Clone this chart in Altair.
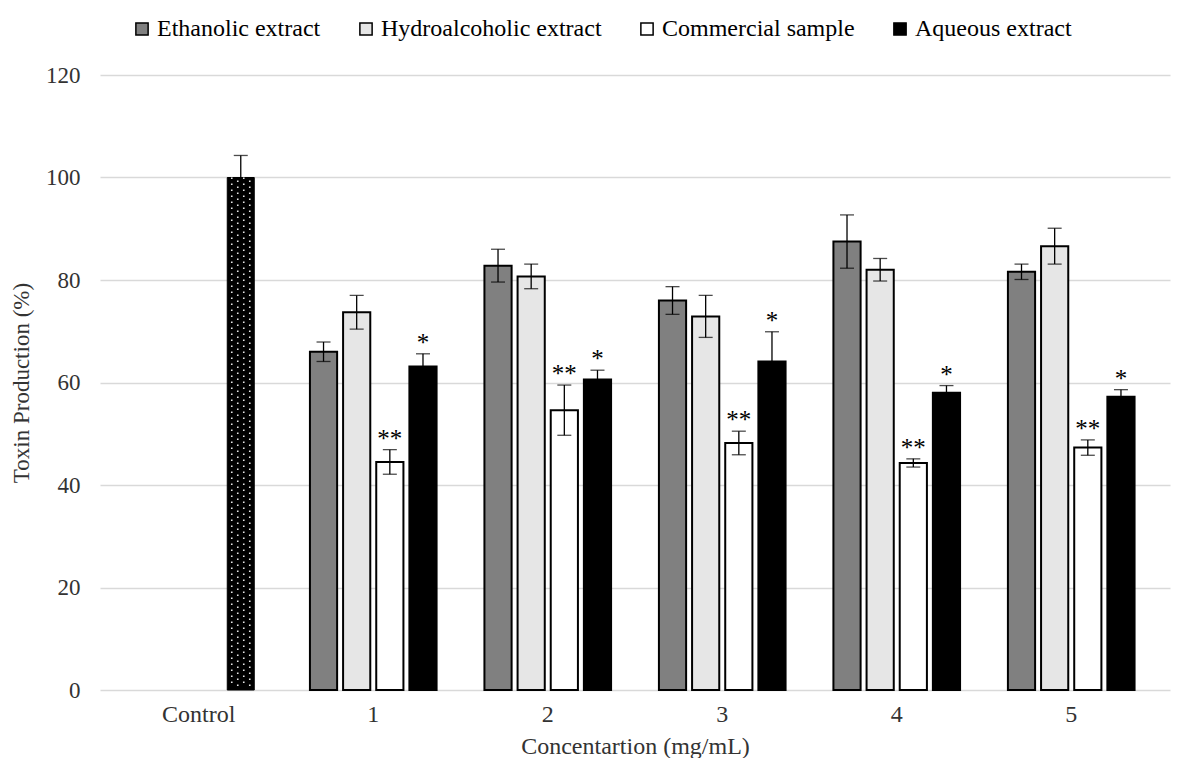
import altair as alt
import pandas as pd

categories = ["Control", "1", "2", "3", "4", "5"]
series = ["Ethanolic extract", "Hydroalcoholic extract", "Commercial sample", "Aqueous extract"]
series_colors = ["#808080", "#e6e6e6", "#ffffff", "#000000"]

concentrations = ["1", "2", "3", "4", "5"]
ethanolic = [66.0, 82.8, 76.0, 87.5, 81.6]
ethanolic_err = [1.9, 3.2, 2.7, 5.2, 1.5]
hydro = [73.7, 80.7, 72.9, 82.0, 86.6]
hydro_err = [3.3, 2.4, 4.1, 2.2, 3.5]
commercial = [44.5, 54.6, 48.2, 44.3, 47.3]
commercial_err = [2.4, 4.9, 2.3, 0.8, 1.5]
aqueous = [63.1, 60.6, 64.1, 58.0, 57.2]
aqueous_err = [2.5, 1.8, 5.8, 1.4, 1.4]
commercial_sig = ["**", "**", "**", "**", "**"]
aqueous_sig = ["*", "*", "*", "*", "*"]

control_value = 100.0
control_err = 4.3

rows = []
for name, vals, errs, sigs in [
    (series[0], ethanolic, ethanolic_err, [""] * 5),
    (series[1], hydro, hydro_err, [""] * 5),
    (series[2], commercial, commercial_err, commercial_sig),
    (series[3], aqueous, aqueous_err, aqueous_sig),
]:
    for c, v, e, s in zip(concentrations, vals, errs, sigs):
        rows.append(dict(conc=c, series=name, value=v, lo=v - e, hi=v + e, sig=s))
df = pd.DataFrame(rows)
ctrl = pd.DataFrame([dict(conc="Control", series="Control", value=control_value,
                          lo=control_value - control_err, hi=control_value + control_err, sig="")])

FONT = "Liberation Serif"

x = alt.X("conc:N", scale=alt.Scale(domain=categories, paddingInner=0.24, paddingOuter=0.186),
          axis=alt.Axis(title="Concentartion (mg/mL)", labelAngle=0, ticks=False, domain=False,
                        labelPadding=12, titlePadding=8, grid=False,
                        labelFontSize=24, titleFontSize=24))
y = alt.Y("value:Q", scale=alt.Scale(domain=[0, 120]),
          axis=alt.Axis(title="Toxin Production (%)", values=[0, 20, 40, 60, 80, 100, 120],
                        ticks=False, domain=False, labelPadding=20, titlePadding=12,
                        gridColor="#d9d9d9", gridWidth=1.5, labelFontSize=23, titleFontSize=23))
xo = alt.XOffset("series:N", scale=alt.Scale(domain=series, paddingInner=0.18, paddingOuter=0.09))

bars = alt.Chart(df).mark_bar(stroke="black", strokeWidth=2).encode(
    x=x, y=y, xOffset=xo,
    color=alt.Color("series:N", scale=alt.Scale(domain=series, range=series_colors),
                    legend=alt.Legend(title=None, orient="none", legendX=30, legendY=-58,
                                      direction="horizontal", symbolType="square",
                                      symbolSize=150, symbolStrokeColor="black",
                                      symbolStrokeWidth=1.5, labelFont=FONT, labelFontSize=24,
                                      labelColor="black", labelOffset=3, columnPadding=33,
                                      labelLimit=0)),
)
err_rule = alt.Chart(df).mark_rule(color="black", strokeWidth=1.3).encode(
    x=x, xOffset=xo, y="lo:Q", y2="hi:Q")
cap_hi = alt.Chart(df).mark_tick(color="black", thickness=1.3, size=14).encode(
    x=x, xOffset=xo, y="hi:Q")
cap_lo = alt.Chart(df).mark_tick(color="black", thickness=1.3, size=14).encode(
    x=x, xOffset=xo, y="lo:Q")
stars = alt.Chart(df).transform_filter("datum.sig != ''").mark_text(
    font=FONT, fontSize=25, baseline="bottom", dy=2, fill="black", color="black").encode(
    x=x, xOffset=xo, y="hi:Q", text="sig:N")

CX = 42
ctrl_bar = alt.Chart(ctrl).mark_bar(color="black", stroke="black", strokeWidth=1, width=27, xOffset=CX).encode(
    x=x, y=y)
dot_layers = []
for off, dash_off in [(-9, 0), (-3, 3), (3, 0), (9, 3)]:
    dot_layers.append(
        alt.Chart(ctrl).mark_rule(color="white", strokeWidth=1.6, strokeDash=[1.6, 4.4],
                                  strokeDashOffset=dash_off, xOffset=CX + off, opacity=0.9).encode(
            x=x, y=alt.Y("value:Q"), y2=alt.datum(0.6)))
ctrl_err = alt.Chart(ctrl).mark_rule(color="black", strokeWidth=1.3, xOffset=CX).encode(
    x=x, y="lo:Q", y2="hi:Q")
ctrl_cap = alt.Chart(ctrl).mark_tick(color="black", thickness=1.3, size=14, xOffset=CX).encode(
    x=x, y="hi:Q")

chart = alt.layer(bars, err_rule, cap_hi, cap_lo, stars, ctrl_bar, *dot_layers, ctrl_err, ctrl_cap).properties(
    width=1070, height=615, padding={"left": 2, "top": 9, "right": 5, "bottom": 0}
).configure_view(stroke=None).configure_axis(
    labelFont=FONT, titleFont=FONT,
    labelColor="#333333", titleColor="#333333", titleFontWeight="normal"
)

chart.save("out.html", embed_options={"renderer": "svg", "actions": False})
